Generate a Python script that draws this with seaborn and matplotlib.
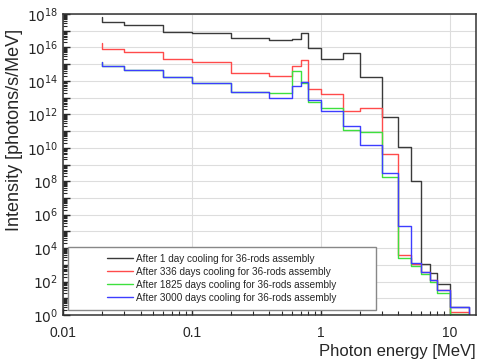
import numpy as np
import pandas as pd
import matplotlib
matplotlib.use("Agg")
import matplotlib.pyplot as plt
import matplotlib.ticker as mticker
from matplotlib.patches import Rectangle
import seaborn as sns

# bin edges [MeV]
edges = [0.02, 0.03, 0.06, 0.1, 0.2, 0.4, 0.6, 0.7, 0.8, 1.0, 1.5, 2.0,
         3.0, 4.0, 5.0, 6.0, 7.0, 8.0, 10.0, 14.0]

labels = ["After 1 day cooling for 36-rods assembly",
          "After 336 days cooling for 36-rods assembly",
          "After 1825 days cooling for 36-rods assembly",
          "After 3000 days cooling for 36-rods assembly"]

# log10 of intensity per bin (first value = start stub, last = drop to bottom)
day1 = [17.8, 17.54, 17.34, 16.94, 16.88, 16.55, 16.45, 16.52, 16.85, 15.95, 15.29,
        15.67, 14.25, 11.86, 10.07, 8.02, 3.05, 2.49, 1.84, 0.50, -1]
day336 = [16.25, 15.91, 15.71, 15.29, 15.13, 14.45, 14.29, 14.87, 15.23, 13.54, 13.23,
          12.2, 12.4, 9.62, 3.59, 3.05, 2.6, 2.1, 1.5, 0.2, -1]
day1825 = [15.15, 14.89, 14.65, 14.25, 13.9, 13.36, 13.3, 14.6, 13.9, 12.75, 12.36,
           11.07, 10.95, 8.27, 3.39, 2.95, 2.43, 1.96, 1.3, 0.04, -1]
day3000 = [15.15, 14.89, 14.65, 14.25, 13.9, 13.36, 12.96, 13.7, 13.95, 12.86, 12.2,
           11.32, 10.17, 8.49, 5.32, 3.12, 2.6, 2.1, 1.5, 0.5, -1]

colors = ["#3a3a3a", "#ff4b4b", "#3ee03e", "#3d3dff"]

x = [edges[0]] + edges
frames = []
for lab, vals in zip(labels, [day1, day336, day1825, day3000]):
    frames.append(pd.DataFrame({"E": x, "I": 10.0 ** np.array(vals), "case": lab}))
df = pd.concat(frames, ignore_index=True)

sns.set_style("ticks")
plt.rcParams["font.family"] = ["Liberation Sans", "DejaVu Sans"]

fig = plt.figure(figsize=(4.78, 3.62), dpi=100)
ax = fig.add_axes([0.1318, 0.1298, 0.864, 0.8315])

sns.lineplot(data=df, x="E", y="I", hue="case", palette=colors,
             estimator=None, sort=False, drawstyle="steps-post",
             linewidth=1.0, legend=False, ax=ax)

ax.set_xscale("log")
ax.set_yscale("log")
ax.set_xlim(0.01, 16)
ax.set_ylim(1, 1e18)

ax.yaxis.set_major_locator(mticker.LogLocator(base=10, numticks=40))
ax.yaxis.set_minor_locator(mticker.LogLocator(base=10, subs=np.arange(2, 10), numticks=40))
ax.yaxis.set_major_formatter(mticker.FuncFormatter(
    lambda v, p: r"$10^{%d}$" % round(np.log10(v)) if round(np.log10(v)) % 2 == 0 else ""))
ax.xaxis.set_major_formatter(mticker.FuncFormatter(lambda v, p: "%g" % v))

ax.grid(True, which="major", color="#dddddd", linewidth=0.8)
ax.tick_params(which="major", direction="in", length=5, width=1, labelsize=10,
               right=False, top=False)
ax.tick_params(which="minor", direction="in", length=3, width=0.8, right=False, top=False)
ax.tick_params(axis="x", which="major", pad=8)
for s in ax.spines.values():
    s.set_visible(True)
    s.set_color("#333333")
    s.set_linewidth(1.1)

ax.set_xlabel("Photon energy [MeV]", fontsize=12, loc="right", labelpad=3)
ax.set_ylabel("Intensity [photons/s/MeV]", fontsize=13)
ax.yaxis.set_label_coords(-0.097, 0.615)

# legend box
ax.add_patch(Rectangle((0.012, 0.017), 0.746, 0.21, transform=ax.transAxes,
                       facecolor="white", edgecolor="#888888", linewidth=1.0, zorder=4))
handles = [plt.Line2D([], [], color=c, linewidth=1.0) for c in colors]
leg = ax.legend(handles, labels, loc="center", bbox_to_anchor=(0.385, 0.122),
                frameon=False, fontsize=7.2, handlelength=2.6, handletextpad=0.3,
                labelspacing=0.3)
leg.set_zorder(5)

fig.savefig("out.png", dpi=100)
